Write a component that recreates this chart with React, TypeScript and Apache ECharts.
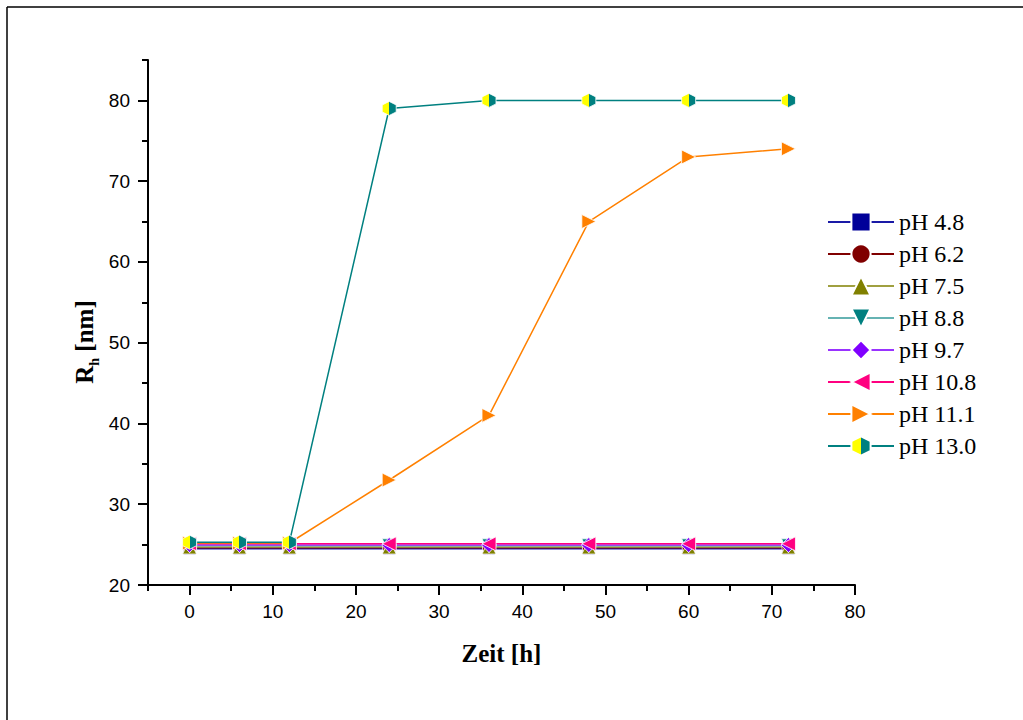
import React, { useEffect, useRef } from "react";
import * as echarts from "echarts";

const hours = [0, 6, 12, 24, 36, 48, 60, 72];
const ph48 = [24.5, 24.5, 24.5, 24.5, 24.5, 24.5, 24.5, 24.5];
const ph62 = [24.6, 24.6, 24.6, 24.6, 24.6, 24.6, 24.6, 24.6];
const ph75 = [24.7, 24.7, 24.7, 24.7, 24.7, 24.7, 24.7, 24.7];
const ph88 = [24.85, 24.85, 24.85, 24.85, 24.85, 24.85, 24.85, 24.85];
const ph97 = [24.95, 24.95, 24.95, 24.95, 24.95, 24.95, 24.95, 24.95];
const ph108 = [25.1, 25.1, 25.1, 25.1, 25.1, 25.1, 25.1, 25.1];
const ph111 = [25.2, 25.2, 25.2, 33, 41, 65, 73, 74];
const ph130 = [25.3, 25.3, 25.3, 79, 80, 80, 80, 80];

const seriesNames = ["pH 4.8", "pH 6.2", "pH 7.5", "pH 8.8", "pH 9.7", "pH 10.8", "pH 11.1", "pH 13.0"];
const seriesValues = [ph48, ph62, ph75, ph88, ph97, ph108, ph111, ph130];

const xMajorTicks = [0, 10, 20, 30, 40, 50, 60, 70, 80];
const xMinorTicks = [-5, 5, 15, 25, 35, 45, 55, 65, 75];
const yMajorTicks = [20, 30, 40, 50, 60, 70, 80];
const yMinorTicks = [25, 35, 45, 55, 65, 75, 85];

const hexPath = "path://M0,-10 L8.66,-5 L8.66,5 L0,10 L-8.66,5 L-8.66,-5 Z";

const styles = [
  { line: "#1a1aa6", fill: "#000099", symbol: "rect", rotate: 0, size: 12 },
  { line: "#800000", fill: "#800000", symbol: "circle", rotate: 0, size: 13 },
  { line: "#a0a040", fill: "#808000", symbol: "triangle", rotate: 0, size: 14 },
  { line: "#66b3b3", fill: "#008080", symbol: "triangle", rotate: 180, size: 14 },
  { line: "#9933ff", fill: "#8000ff", symbol: "diamond", rotate: 0, size: 15 },
  { line: "#ff0080", fill: "#ff0080", symbol: "triangle", rotate: 90, size: 14 },
  { line: "#ff8000", fill: "#ff8000", symbol: "triangle", rotate: -90, size: 14 },
  {
    line: "#008080",
    fill: {
      type: "linear", x: 0, y: 0, x2: 1, y2: 0,
      colorStops: [
        { offset: 0, color: "#ffff00" },
        { offset: 0.5, color: "#ffff00" },
        { offset: 0.5, color: "#008080" },
        { offset: 1, color: "#008080" },
      ],
    },
    symbol: hexPath, rotate: 0, size: 14,
  },
];

export default function App() {
  const ref = useRef<HTMLDivElement>(null);
  useEffect(() => {
    document.body.style.margin = "0";
    const chart = echarts.init(ref.current!, null, { renderer: "svg" });
    const tickLine = { color: "#000", width: 2 };
    const labelFont = { color: "#000", fontFamily: "Liberation Sans", fontSize: 19 };
    chart.setOption({
      animation: false,
      backgroundColor: "#fff",
      grid: { left: 148, right: 168, top: 60, bottom: 135 },
      xAxis: [
        {
          type: "value", min: -5, max: 80, position: "bottom",
          axisLine: { show: true, onZero: false, lineStyle: tickLine },
          axisTick: { show: true, customValues: xMajorTicks, length: 10, lineStyle: tickLine },
          axisLabel: { customValues: xMajorTicks, margin: 17, ...labelFont },
          splitLine: { show: false },
          name: "Zeit [h]", nameLocation: "middle", nameGap: 56,
          nameTextStyle: { fontFamily: "Liberation Serif", fontWeight: "bold", fontSize: 25, color: "#000" },
        },
        {
          type: "value", min: -5, max: 80, position: "bottom",
          axisLine: { show: false, onZero: false },
          axisTick: { show: true, customValues: xMinorTicks, length: 6, lineStyle: tickLine },
          axisLabel: { show: false },
          splitLine: { show: false },
        },
      ],
      yAxis: [
        {
          type: "value", min: 20, max: 85, position: "left",
          axisLine: { show: true, onZero: false, lineStyle: tickLine },
          axisTick: { show: true, customValues: yMajorTicks, length: 10, lineStyle: tickLine },
          axisLabel: { customValues: yMajorTicks, margin: 18, ...labelFont },
          splitLine: { show: false },
        },
        {
          type: "value", min: 20, max: 85, position: "left",
          axisLine: { show: false, onZero: false },
          axisTick: { show: true, customValues: yMinorTicks, length: 6, lineStyle: tickLine },
          axisLabel: { show: false },
          splitLine: { show: false },
        },
      ],
      legend: {
        orient: "vertical", left: 822, top: 205,
        itemWidth: 66, itemHeight: 24, itemGap: 8,
        selectedMode: false,
        textStyle: { fontFamily: "Liberation Serif", fontSize: 24, color: "#000" },
        data: seriesNames,
      },
      graphic: [
        { type: "line", shape: { x1: 7, y1: 7, x2: 1023, y2: 7 }, style: { stroke: "#000", lineWidth: 1.5 } },
        { type: "line", shape: { x1: 7, y1: 7, x2: 7, y2: 720 }, style: { stroke: "#000", lineWidth: 1.5 } },
        {
          type: "text", x: 84, y: 342, rotation: Math.PI / 2,
          style: {
            text: "{r|R}{s|h}{r| [nm]}",
            align: "center", verticalAlign: "middle",
            rich: {
              r: { fontFamily: "Liberation Serif", fontWeight: "bold", fontSize: 25, fill: "#000", lineHeight: 30 },
              s: { fontFamily: "Liberation Serif", fontWeight: "bold", fontSize: 14, fill: "#000", lineHeight: 30, verticalAlign: "bottom", padding: [0, 0, -2, 0] },
            },
          },
        },
      ],
      series: seriesNames.map((name, i) => ({
        name,
        type: "line",
        xAxisIndex: 0,
        yAxisIndex: 0,
        data: hours.map((h, j) => [h, seriesValues[i][j]]),
        symbol: styles[i].symbol,
        symbolSize: styles[i].size,
        symbolRotate: styles[i].rotate,
        showAllSymbol: true,
        lineStyle: { color: styles[i].line, width: 1.5 },
        itemStyle: { color: styles[i].fill, borderColor: "#fff", borderWidth: 0.8 },
        emphasis: { disabled: true },
      })),
    });
    return () => chart.dispose();
  }, []);
  return <div ref={ref} style={{ width: 1023, height: 720 }} />;
}
